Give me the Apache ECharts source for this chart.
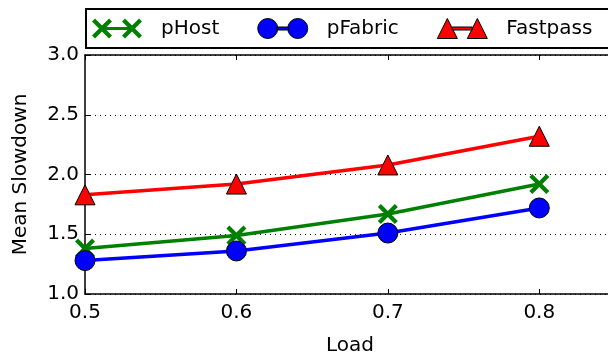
<!DOCTYPE html>
<html>
<head>
<meta charset="utf-8">
<script src="https://cdn.jsdelivr.net/npm/echarts@6/dist/echarts.min.js"></script>
<style>
	html, body { margin: 0; padding: 0; background: #fff; }
	#chart { width: 608px; height: 360px; }
</style>
</head>
<body>
<div id="chart"></div>
<script>
var loads = [0.5, 0.6, 0.7, 0.8];
var pHost = [1.38, 1.49, 1.67, 1.92];
var pFabric = [1.28, 1.36, 1.51, 1.72];
var fastpass = [1.83, 1.92, 2.08, 2.32];
var yTicks = [1.0, 1.5, 2.0, 2.5, 3.0];

var fontFamily = 'DejaVu Sans';

// marker shapes
var xMark = 'path://M0,3 L3,0 L10,7 L17,0 L20,3 L13,10 L20,17 L17,20 L10,13 L3,20 L0,17 L7,10 Z';
// legend icons: two markers joined by a line
var xIcon = 'path://M0,3 L3,0 L10,7 L17,0 L20,3 L13,10 L20,17 L17,20 L10,13 L3,20 L0,17 L7,10 Z ' +
	'M30,3 L33,0 L40,7 L47,0 L50,3 L43,10 L50,17 L47,20 L40,13 L33,20 L30,17 L37,10 Z ' +
	'M13,8.5 L37,8.5 L37,11.5 L13,11.5 Z';
var circleIcon = 'path://M0,10 A10,10 0 1,1 20,10 A10,10 0 1,1 0,10 Z ' +
	'M30,10 A10,10 0 1,1 50,10 A10,10 0 1,1 30,10 Z ' +
	'M19,8.5 L31,8.5 L31,11.5 L19,11.5 Z';
var triIcon = 'path://M0,20 L10,0 L20,20 Z M30,20 L40,0 L50,20 Z ' +
	'M15,8.5 L35,8.5 L35,11.5 L15,11.5 Z';

function pairs(vals) {
	return loads.map(function (x, i) { return [x, vals[i]]; });
}

var chart = echarts.init(document.getElementById('chart'));
var option = {
	animation: false,
	textStyle: { fontFamily: fontFamily },
	legend: {
		left: 86,
		top: 9,
		width: 800,
		orient: 'horizontal',
		padding: [9, 40, 9, 6],
		borderColor: '#000',
		borderWidth: 2,
		borderRadius: 0,
		itemWidth: 50,
		itemHeight: 20,
		itemGap: 38,
		textStyle: { fontSize: 20, color: '#000', fontFamily: fontFamily, padding: [0, 0, 0, 14] },
		data: [
			{ name: 'pHost', icon: xIcon },
			{ name: 'pFabric', icon: circleIcon, itemStyle: { borderColor: '#000', borderWidth: 1 } },
			{ name: 'Fastpass', icon: triIcon, itemStyle: { borderColor: '#000', borderWidth: 1 } }
		]
	},
	grid: {
		left: 85,
		top: 55,
		width: 530,
		bottom: 66,
		outerBoundsMode: 'none'
	},
	xAxis: [{
		type: 'value',
		min: 0.5,
		max: 0.85,
		interval: 0.1,
		name: 'Load',
		nameLocation: 'middle',
		nameGap: 42,
		nameTextStyle: { fontSize: 20, color: '#000', fontFamily: fontFamily },
		axisLine: { onZero: false, lineStyle: { color: '#000', width: 1.5 } },
		axisTick: { inside: true, length: 5, lineStyle: { color: '#000' } },
		axisLabel: {
			fontSize: 20, color: '#000', margin: 9, showMaxLabel: false,
			formatter: function (v) { return v.toFixed(1); }
		},
		splitLine: { show: false }
	}, {
		type: 'value',
		position: 'top',
		min: 0.5,
		max: 0.85,
		interval: 0.1,
		axisLine: { onZero: false, lineStyle: { color: '#000', width: 1.5 } },
		axisTick: { inside: true, length: 5, lineStyle: { color: '#000' } },
		axisLabel: { show: false },
		splitLine: { show: false }
	}],
	yAxis: {
		type: 'value',
		min: yTicks[0],
		max: yTicks[yTicks.length - 1],
		interval: 0.5,
		name: 'Mean Slowdown',
		nameLocation: 'middle',
		nameGap: 54,
		nameTextStyle: { fontSize: 20, color: '#000', fontFamily: fontFamily },
		axisLine: { show: true, onZero: false, lineStyle: { color: '#000', width: 1.5 } },
		axisTick: { show: true, inside: true, length: 5, lineStyle: { color: '#000' } },
		axisLabel: {
			fontSize: 20, color: '#000', margin: 6,
			formatter: function (v) { return v.toFixed(1); }
		},
		splitLine: { show: true, lineStyle: { color: '#000', type: [1, 4], width: 1 } }
	},
	series: [
		{
			name: 'pHost',
			type: 'line',
			data: pairs(pHost),
			symbol: xMark,
			symbolSize: 20,
			lineStyle: { color: '#008000', width: 3.5 },
			itemStyle: { color: '#008000' }
		},
		{
			name: 'pFabric',
			type: 'line',
			data: pairs(pFabric),
			symbol: 'circle',
			symbolSize: 20,
			lineStyle: { color: '#0000ff', width: 3.5 },
			itemStyle: { color: '#0000ff', borderColor: '#000', borderWidth: 1 }
		},
		{
			name: 'Fastpass',
			type: 'line',
			data: pairs(fastpass),
			symbol: 'triangle',
			symbolSize: 20,
			lineStyle: { color: '#ff0000', width: 3.5 },
			itemStyle: { color: '#ff0000', borderColor: '#000', borderWidth: 1 }
		}
	]
};
chart.setOption(option);
</script>
</body>
</html>
